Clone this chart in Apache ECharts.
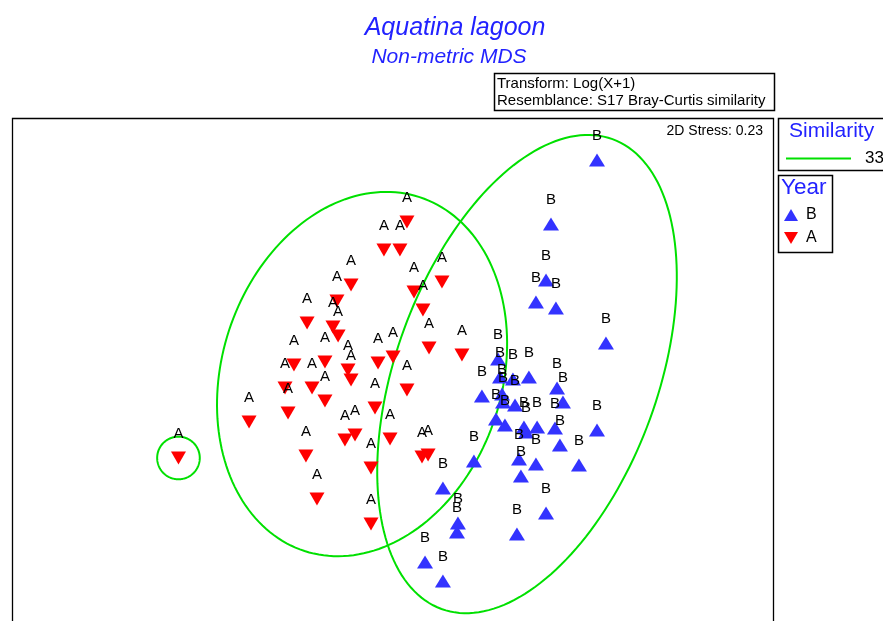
<!DOCTYPE html>
<html>
<head>
<meta charset="utf-8">
<title>Aquatina lagoon - Non-metric MDS</title>
<script src="https://cdn.jsdelivr.net/npm/echarts@6/dist/echarts.min.js"></script>
<style>
  html, body { margin: 0; padding: 0; background: #fff; }
  #chart { width: 883px; height: 621px; }
</style>
</head>
<body>
<div id="chart"></div>
<script>
// Year groups shown in the legend
const years = ['B', 'A'];

// MDS ordination coordinates (dimension 1, dimension 2) for samples of year A
const yearA = [
  [-1.125, -0.487], [0.076, 0.753], [-0.045, 0.606], [0.039, 0.606],
  [-0.218, 0.422], [0.113, 0.385], [0.260, 0.438], [0.160, 0.291],
  [-0.292, 0.338], [-0.313, 0.201], [-0.286, 0.154], [-0.449, 0.222],
  [0.192, 0.091], [0.365, 0.054], [0.003, 0.044], [-0.076, 0.012],
  [-0.518, 0.002], [-0.355, 0.017], [-0.234, -0.025], [-0.218, -0.077],
  [-0.423, -0.119], [-0.565, -0.119], [-0.355, -0.188], [0.076, -0.130],
  [-0.754, -0.298], [-0.549, -0.251], [-0.092, -0.224], [-0.250, -0.393],
  [-0.197, -0.366], [-0.455, -0.477], [-0.113, -0.540], [-0.013, -0.387],
  [0.155, -0.482], [0.187, -0.471], [-0.397, -0.703], [-0.113, -0.834]
];

// MDS ordination coordinates for samples of year B
const yearB = [
  [1.075, 1.079], [0.833, 0.743], [0.807, 0.448], [0.754, 0.333],
  [0.859, 0.301], [1.122, 0.117], [0.555, 0.033], [0.565, -0.061],
  [0.633, -0.072], [0.717, -0.061], [0.865, -0.119], [0.896, -0.193],
  [0.470, -0.161], [0.576, -0.151], [0.581, -0.193], [0.644, -0.209],
  [0.544, -0.282], [0.591, -0.314], [0.691, -0.324], [0.760, -0.324],
  [0.702, -0.350], [0.854, -0.329], [1.075, -0.340], [0.880, -0.419],
  [0.665, -0.492], [0.754, -0.519], [0.980, -0.524], [0.428, -0.503],
  [0.675, -0.582], [0.265, -0.645], [0.807, -0.776], [0.654, -0.887],
  [0.344, -0.829], [0.339, -0.876], [0.171, -1.034], [0.265, -1.134]
];

// Similarity contours at 33%: centre x, centre y, semi-axis a, semi-axis b, rotation (deg)
const similarityLevel = '33';
const contours33 = [
  [-0.160, -0.046, 0.978, 0.736, 72],
  [0.707, -0.046, 1.314, 0.688, 70],
  [-1.125, -0.487, 0.112, 0.112, 0]
];

// Stress of the 2-D solution
const stress2D = 0.23;

const BLUE = '#3333ff';
const RED = '#ff0000';
const GREEN = '#00e000';
const TITLE_BLUE = '#2222ff';
const FONT = 'Arial, "Liberation Sans", sans-serif';

const chart = echarts.init(document.getElementById('chart'), null, { renderer: 'canvas' });

// Draws one contour as a rotated ellipse in data space
function ellipseItem(params, api) {
  const cx = api.value(0), cy = api.value(1);
  const a = api.value(2), b = api.value(3);
  const t = api.value(4) * Math.PI / 180;
  const pts = [];
  const n = 180;
  for (let k = 0; k < n; k++) {
    const u = k / n * Math.PI * 2;
    const ex = a * Math.cos(u), ey = b * Math.sin(u);
    pts.push(api.coord([
      cx + ex * Math.cos(t) - ey * Math.sin(t),
      cy + ex * Math.sin(t) + ey * Math.cos(t)
    ]));
  }
  return {
    type: 'polygon',
    shape: { points: pts },
    style: { fill: 'none', stroke: GREEN, lineWidth: 2 }
  };
}

const pointLabel = (txt) => ({
  show: true,
  formatter: txt,
  position: 'inside',
  offset: [0, -24],
  color: '#000',
  fontSize: 15,
  fontFamily: FONT
});

chart.setOption({
  backgroundColor: '#fff',
  animation: false,
  grid: {
    left: 12, top: 118, width: 761, height: 503,
    show: false
  },
  xAxis: { type: 'value', min: -2, max: 2, show: false },
  yAxis: { type: 'value', min: -1.344, max: 1.3, show: false },
  legend: [
    {
      data: [{ name: similarityLevel, icon: 'rect' }],
      left: 786, top: 150, padding: 0,
      itemWidth: 65, itemHeight: 2,
      textStyle: { fontSize: 17, fontFamily: FONT, color: '#000', padding: [0, 0, 0, 9] },
      selectedMode: false
    },
    {
      data: [
        { name: years[0], icon: 'triangle' },
        { name: years[1], icon: 'path://M0,0L14,0L7,12Z' }
      ],
      orient: 'vertical',
      left: 784, top: 207, padding: 0,
      itemWidth: 14, itemHeight: 12, itemGap: 7,
      textStyle: { fontSize: 16, fontFamily: FONT, color: '#000', padding: [0, 0, 0, 3] },
      selectedMode: false
    }
  ],
  graphic: [
    // plot frame (its lower edge lies below the visible area)
    { type: 'rect', shape: { x: 12.5, y: 118.5, width: 761, height: 520 },
      style: { fill: 'none', stroke: '#000', lineWidth: 1.3 }, z: 0, silent: true },
    // info box with transform and resemblance
    { type: 'rect', shape: { x: 494.5, y: 73.5, width: 280, height: 37 },
      style: { fill: '#fff', stroke: '#000', lineWidth: 1.5 }, silent: true },
    // Similarity legend frame
    { type: 'rect', shape: { x: 778.5, y: 118.5, width: 120, height: 52 },
      style: { fill: 'none', stroke: '#000', lineWidth: 1.5 }, silent: true },
    // Year legend frame
    { type: 'rect', shape: { x: 778.5, y: 175.5, width: 54, height: 77 },
      style: { fill: 'none', stroke: '#000', lineWidth: 1.5 }, silent: true },
    { type: 'text', silent: true, style: { text: 'Aquatina lagoon', x: 455, y: 28, align: 'center', verticalAlign: 'middle',
        font: 'italic 25px ' + FONT, fill: TITLE_BLUE } },
    { type: 'text', silent: true, style: { text: 'Non-metric MDS', x: 449, y: 57, align: 'center', verticalAlign: 'middle',
        font: 'italic 21px ' + FONT, fill: TITLE_BLUE } },
    { type: 'text', silent: true, z: 10, style: { text: 'Transform: Log(X+1)', x: 497, y: 84, verticalAlign: 'middle',
        font: '15px ' + FONT, fill: '#000' } },
    { type: 'text', silent: true, z: 10, style: { text: 'Resemblance: S17 Bray-Curtis similarity', x: 497, y: 101, verticalAlign: 'middle',
        font: '15px ' + FONT, fill: '#000' } },
    { type: 'text', silent: true, style: { text: '2D Stress: ' + stress2D.toFixed(2), x: 763, y: 131, align: 'right', verticalAlign: 'middle',
        font: '14px ' + FONT, fill: '#000' } },
    { type: 'text', silent: true, style: { text: 'Similarity', x: 789, y: 131, verticalAlign: 'middle',
        font: '21px ' + FONT, fill: TITLE_BLUE } },
    { type: 'text', silent: true, style: { text: 'Year', x: 781, y: 188, verticalAlign: 'middle',
        font: '22.5px ' + FONT, fill: TITLE_BLUE } }
  ],
  series: [
    {
      name: similarityLevel,
      type: 'custom',
      renderItem: ellipseItem,
      data: contours33,
      itemStyle: { color: GREEN },
      silent: true,
      z: 1
    },
    {
      name: years[1],
      type: 'scatter',
      data: yearA,
      symbol: 'triangle',
      symbolRotate: 180,
      symbolSize: [15, 13],
      itemStyle: { color: RED, opacity: 1 },
      label: pointLabel('A'),
      z: 3
    },
    {
      name: years[0],
      type: 'scatter',
      data: yearB,
      symbol: 'triangle',
      symbolSize: [16, 13],
      itemStyle: { color: BLUE, opacity: 1 },
      label: pointLabel('B'),
      z: 4
    }
  ]
});
</script>
</body>
</html>
